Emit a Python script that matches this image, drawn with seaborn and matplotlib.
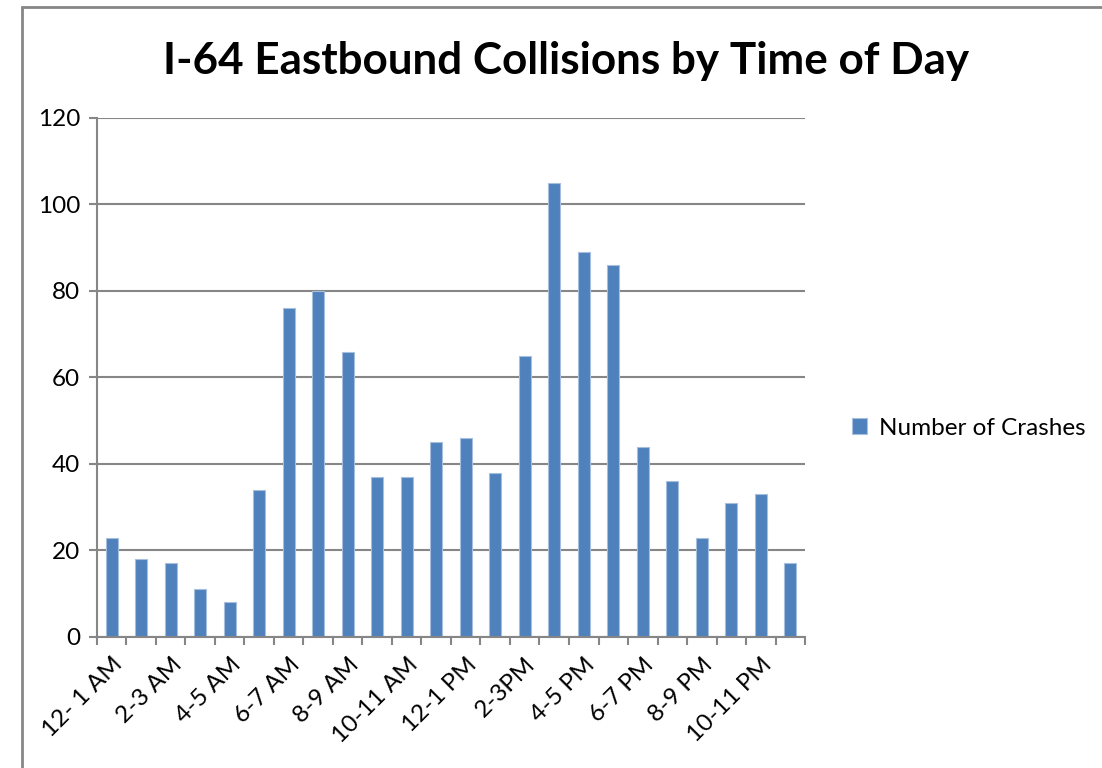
import matplotlib
matplotlib.use("Agg")
import matplotlib.pyplot as plt
from matplotlib.lines import Line2D
from matplotlib.ticker import FixedLocator
import seaborn as sns
import pandas as pd

# Hourly collision counts, I-64 eastbound
hours = ["12- 1 AM", "1-2 AM", "2-3 AM", "3-4 AM", "4-5 AM", "5-6 AM",
         "6-7 AM", "7-8 AM", "8-9 AM", "9-10 AM", "10-11 AM", "11-12 AM",
         "12-1 PM", "1-2 PM", "2-3PM", "3-4 PM", "4-5 PM", "5-6 PM",
         "6-7 PM", "7-8 PM", "8-9 PM", "9-10 PM", "10-11 PM", "11-12 PM"]
crashes = [23, 18, 17, 11, 8, 34, 76, 80, 66, 37, 37, 45,
           46, 38, 65, 105, 89, 86, 44, 36, 23, 31, 33, 17]
series_name = "Number of Crashes"
y_ticks = [0, 20, 40, 60, 80, 100, 120]

df = pd.DataFrame({"hour": hours, "crashes": crashes})

sns.set_theme(style="white")
plt.rcParams["font.family"] = ["Lato", "DejaVu Sans"]
plt.rcParams["text.color"] = "black"

BAR = "#4F81BD"
GRID = "#868686"
FS = 17.5

fig = plt.figure(figsize=(11.02, 7.68), dpi=100)
ax = fig.add_axes([0.088, 0.1706, 0.6425, 0.6758])

sns.barplot(data=df, x="hour", y="crashes", color=BAR, width=0.4,
            saturation=1, edgecolor="#A7BFDE", linewidth=0.8,
            label=series_name, ax=ax, zorder=3)

ax.set_xlim(-0.5, len(hours) - 0.5)
ax.set_ylim(0, 120)
ax.set_yticks(y_ticks)
ax.set_yticklabels([str(v) for v in y_ticks], fontsize=FS, color="black")
ax.yaxis.grid(True, color=GRID, linewidth=1.5, zorder=0)
ax.xaxis.grid(False)

# Labels on every other category; tick marks between categories
shown = list(range(0, len(hours), 2))
ax.set_xticks(shown)
ax.set_xticklabels([hours[i] for i in shown], rotation=45, ha="right",
                   rotation_mode="anchor", fontsize=FS, color="black")
ax.xaxis.set_minor_locator(FixedLocator([i - 0.5 for i in range(len(hours) + 1)]))
ax.tick_params(axis="x", which="major", length=0, pad=12)
ax.tick_params(axis="x", which="minor", length=6, width=1.5, color=GRID,
               direction="out", bottom=True)
ax.tick_params(axis="y", which="major", length=6, width=1.5, color=GRID,
               direction="out", left=True, pad=6)

ax.set_xlabel("")
ax.set_ylabel("")
for side in ("top", "right"):
    ax.spines[side].set_visible(False)
for side in ("left", "bottom"):
    ax.spines[side].set_color(GRID)
    ax.spines[side].set_linewidth(1.5)
    ax.spines[side].set_zorder(4)

ax.legend(loc="center left", bbox_to_anchor=(1.052, 0.402), frameon=False,
          fontsize=FS, handlelength=0.62, handleheight=0.62, handletextpad=0.5,
          borderaxespad=0)

fig.text(0.514, 0.92, "I-64 Eastbound Collisions by Time of Day",
         ha="center", va="center", fontsize=31.7, fontweight="bold",
         color="black")

# Chart-area border: left and top edges only fall inside the image
bx, by = 22 / 1102, 1 - 6.5 / 768
fig.add_artist(Line2D([bx, bx, 1.0], [0.0, by, by], transform=fig.transFigure,
                      color=GRID, linewidth=2, solid_joinstyle="miter"))

fig.savefig("out.png", dpi=100)
